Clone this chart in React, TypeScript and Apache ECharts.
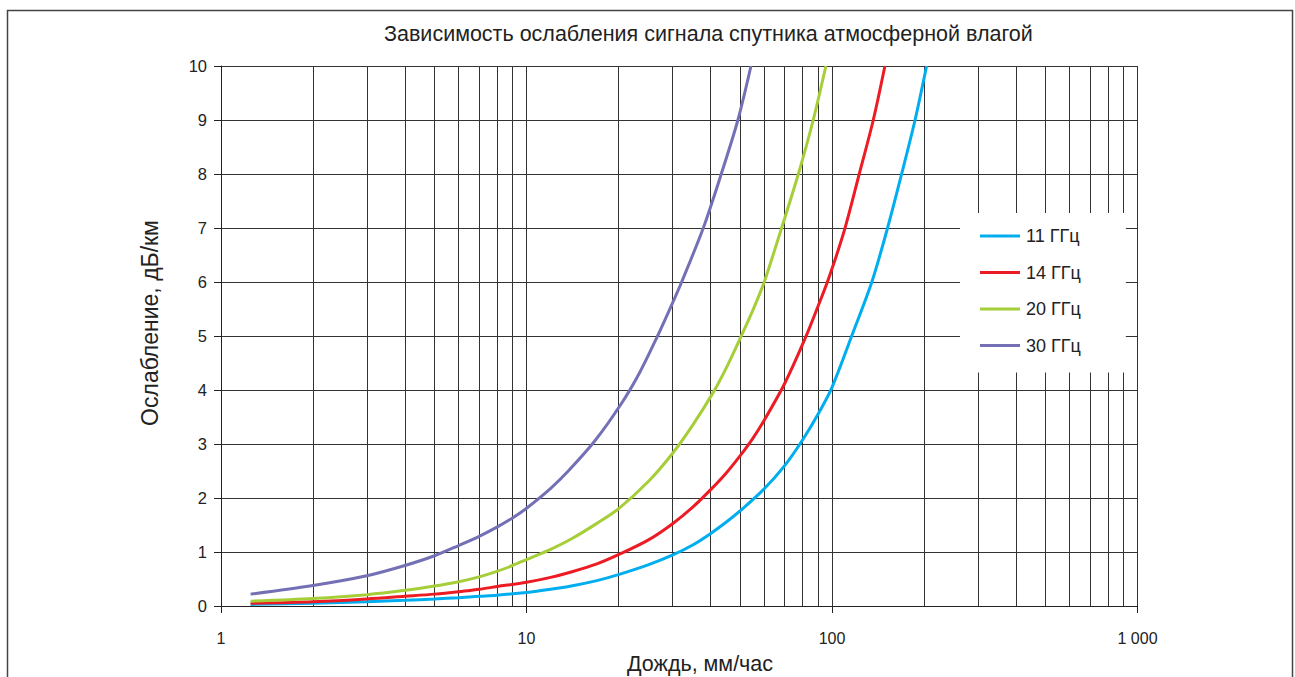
import React, { useEffect, useRef } from "react";
import * as echarts from "echarts";

const title = "Зависимость ослабления сигнала спутника атмосферной влагой";
const xName = "Дождь, мм/час";
const yName = "Ослабление, дБ/км";

const seriesNames = ["11 ГГц", "14 ГГц", "20 ГГц", "30 ГГц"];
const seriesColors = ["#00aeef", "#ed1c24", "#a6ce39", "#7470b5"];

const rain11 = [1.25, 2, 3, 4, 5, 6, 7, 8, 10, 12, 14, 17, 20, 25, 30, 35, 40, 45, 50, 60, 70, 80, 90, 100, 116, 135, 152, 169, 187, 204];
const att11 = [0.03, 0.05, 0.08, 0.105, 0.13, 0.155, 0.18, 0.2, 0.25, 0.31, 0.37, 0.47, 0.58, 0.76, 0.94, 1.13, 1.34, 1.55, 1.76, 2.17, 2.6, 3.07, 3.55, 4.05, 5.0, 6.0, 7.0, 8.0, 9.0, 10.0];

const rain14 = [1.25, 2, 3, 4, 5, 6, 7, 8, 10, 12, 14, 17, 20, 25, 30, 35, 40, 45, 50, 55, 60, 70, 81.6, 90, 97.3, 109.7, 122.8, 136.5, 149];
const att14 = [0.05, 0.08, 0.13, 0.18, 0.22, 0.265, 0.31, 0.36, 0.44, 0.53, 0.63, 0.78, 0.95, 1.22, 1.52, 1.83, 2.15, 2.46, 2.78, 3.1, 3.44, 4.12, 4.95, 5.55, 6.05, 6.95, 8.0, 9.0, 10.0];

const rain20 = [1.25, 2, 3, 4, 5, 6, 7, 8, 9, 10, 12, 14, 17, 20, 25, 30, 35, 41, 45, 50, 55, 60, 68.4, 77.6, 86.8, 95.5];
const att20 = [0.09, 0.14, 0.21, 0.29, 0.37, 0.45, 0.54, 0.64, 0.75, 0.86, 1.05, 1.24, 1.53, 1.8, 2.3, 2.82, 3.35, 3.97, 4.4, 4.95, 5.47, 6.0, 7.0, 8.0, 9.0, 10.0];

const rain30 = [1.25, 2, 3, 4, 5, 6, 7, 8, 9, 10, 12, 13.7, 16.7, 20.4, 23.5, 26.7, 30, 32.2, 37.9, 43.4, 49.2, 54.3];
const att30 = [0.22, 0.38, 0.56, 0.75, 0.93, 1.12, 1.29, 1.46, 1.63, 1.81, 2.18, 2.5, 3.05, 3.74, 4.33, 4.97, 5.6, 6.0, 7.0, 8.0, 9.0, 10.0];

const minorGridRain = [2, 3, 4, 5, 6, 7, 8, 9, 20, 30, 40, 50, 60, 70, 80, 90, 200, 300, 400, 500, 600, 700, 800, 900];

const xTickLabels: Record<number, string> = { 1: "1", 10: "10", 100: "100", 1000: "1 000" };

const FONT = "'Liberation Sans', Arial, sans-serif";

function pairs(xs: number[], ys: number[]) {
  return xs.map((x, i) => [x, ys[i]]);
}

export default function App() {
  const ref = useRef<HTMLDivElement>(null);
  useEffect(() => {
    if (!ref.current) return;
    const chart = echarts.init(ref.current, undefined, { renderer: "svg" });
    const allRain = [rain11, rain14, rain20, rain30];
    const allAtt = [att11, att14, att20, att30];
    const gridColor = "#333";
    const option: any = {
      animation: false,
      backgroundColor: "#fff",
      textStyle: { fontFamily: FONT },
      title: {
        text: title,
        left: 379,
        top: 18,
        textStyle: { fontSize: 21.5, fontWeight: "normal", color: "#222", fontFamily: FONT },
      },
      grid: { left: 221, right: 157.5, top: 66, bottom: 71, containLabel: false },
      legend: {
        orient: "vertical",
        left: 960,
        top: 213,
        data: seriesNames,
        icon: "rect",
        backgroundColor: "#fff",
        padding: [14, 45, 18, 20],
        itemWidth: 40,
        itemHeight: 3,
        itemGap: 18.5,
        textStyle: { fontSize: 18, color: "#222", fontFamily: FONT, padding: [0, 0, 0, 1] },
      },
      xAxis: {
        type: "log",
        logBase: 10,
        min: 1,
        max: 1000,
        axisLine: { show: true, lineStyle: { color: "#222", width: 1 } },
        axisTick: { show: true, length: 7, lineStyle: { color: "#222" } },
        axisLabel: {
          fontSize: 16,
          color: "#222",
          margin: 24,
          formatter: (v: number) => xTickLabels[Math.round(v)] ?? String(v),
        },
        splitLine: { show: true, lineStyle: { color: gridColor, width: 1 } },
      },
      yAxis: {
        type: "value",
        min: 0,
        max: 10,
        interval: 1,
        axisLine: { show: true, lineStyle: { color: "#222", width: 1 } },
        axisTick: { show: true, length: 7, lineStyle: { color: "#222" } },
        axisLabel: { fontSize: 16.5, color: "#222", margin: 14 },
        splitLine: { show: true, lineStyle: { color: gridColor, width: 1 } },
      },
      series: seriesNames.map((name, i) => ({
        name,
        type: "line",
        data: pairs(allRain[i], allAtt[i]),
        smooth: 0.3,
        symbol: "none",
        z: 3,
        lineStyle: { color: seriesColors[i], width: 3 },
        itemStyle: { color: seriesColors[i] },
        ...(i === 0
          ? {
              markLine: {
                silent: true,
                z: 1,
                symbol: ["none", "none"],
                label: { show: false },
                lineStyle: { color: gridColor, width: 1, type: "solid" },
                data: minorGridRain.map((v) => ({ xAxis: v })),
              },
            }
          : {}),
      })),
      graphic: [
        {
          type: "rect",
          shape: { x: 7.5, y: 10.5, width: 1285, height: 720 },
          style: { fill: "none", stroke: "#444", lineWidth: 1.5 },
          silent: true,
          z: 0,
        },
        {
          type: "text",
          x: 700,
          y: 664,
          style: {
            text: xName,
            fontSize: 21.5,
            fontFamily: FONT,
            fill: "#222",
            textAlign: "center",
            textVerticalAlign: "middle",
          },
          silent: true,
        },
        {
          type: "text",
          x: 150,
          y: 323,
          rotation: Math.PI / 2,
          style: {
            text: yName,
            fontSize: 23,
            fontFamily: FONT,
            fill: "#222",
            textAlign: "center",
            textVerticalAlign: "middle",
          },
          silent: true,
        },
      ],
    };
    chart.setOption(option);
    return () => chart.dispose();
  }, []);
  return (
    <div
      ref={ref}
      style={{ position: "absolute", left: 0, top: 0, width: 1295, height: 677 }}
    />
  );
}
